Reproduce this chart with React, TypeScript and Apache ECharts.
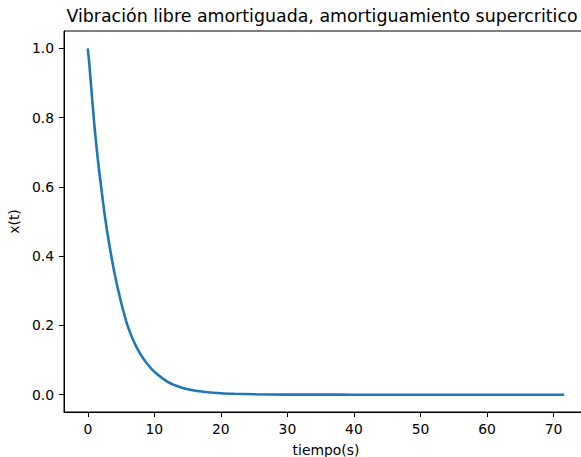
import React, { useEffect, useRef } from "react";
import * as echarts from "echarts";

const tiempo = [0, 0.25, 0.5, 1, 1.5, 2, 2.5, 3, 4, 5, 6, 7, 8, 9, 10, 12, 14, 16, 18, 20, 22, 25, 30, 35, 40, 50, 60, 71.6];
const xt = [1.0, 0.95, 0.89, 0.775, 0.68, 0.6, 0.525, 0.46, 0.352, 0.267, 0.198, 0.15, 0.114, 0.087, 0.066, 0.037, 0.021, 0.012, 0.007, 0.004, 0.0025, 0.0012, 0.0003, 0.0001, 0, 0, 0, 0];
const xTicks = [0, 10, 20, 30, 40, 50, 60, 70];
const yTicks = [0, 0.2, 0.4, 0.6, 0.8, 1.0];

const FONT = "DejaVu Sans";

export default function App() {
  const ref = useRef<HTMLDivElement>(null);
  useEffect(() => {
    if (!ref.current) return;
    const chart = echarts.init(ref.current, undefined, { renderer: "svg" });
    const data = tiempo.map((t, i) => [t, xt[i]]);
    chart.setOption({
      animation: false,
      title: {
        text: "Vibración libre amortiguada, amortiguamiento supercritico",
        left: 317,
        textAlign: "center",
        top: 2,
        textStyle: { fontFamily: FONT, fontSize: 17.4, fontWeight: "normal", color: "#000" },
      },
      grid: {
        left: 64,
        top: 31,
        right: -7,
        bottom: 45,
        show: true,
        borderColor: "#000",
        borderWidth: 1,
        outerBoundsMode: "none",
        containLabel: false,
      },
      xAxis: {
        type: "value",
        min: -3.58,
        max: 75.18,
        name: "tiempo(s)",
        nameLocation: "middle",
        nameGap: 31,
        nameTextStyle: { fontFamily: FONT, fontSize: 13.9, color: "#000" },
        splitLine: { show: false },
        axisLine: { show: true, onZero: false, lineStyle: { color: "#000", width: 1 } },
        axisTick: { show: true, customValues: xTicks, length: 5, lineStyle: { color: "#000" } },
        axisLabel: {
          customValues: xTicks,
          margin: 10,
          fontFamily: FONT,
          fontSize: 13.9,
          color: "#000",
        },
      },
      yAxis: {
        type: "value",
        min: -0.05,
        max: 1.05,
        name: "x(t)",
        nameLocation: "middle",
        nameGap: 39,
        nameRotate: 90,
        nameTextStyle: { fontFamily: FONT, fontSize: 13.9, color: "#000" },
        splitLine: { show: false },
        axisLine: { show: true, onZero: false, lineStyle: { color: "#000", width: 1 } },
        axisTick: { show: true, customValues: yTicks, length: 5, lineStyle: { color: "#000" } },
        axisLabel: {
          customValues: yTicks,
          margin: 10,
          fontFamily: FONT,
          fontSize: 13.9,
          color: "#000",
          formatter: (v: number) => v.toFixed(1),
        },
      },
      series: [
        {
          type: "line",
          data,
          showSymbol: false,
          smooth: 0.3,
          lineStyle: { color: "#1f77b4", width: 2.6 },
        },
      ],
    });
    return () => chart.dispose();
  }, []);
  return (
    <div style={{ position: "absolute", left: 0, top: 0, width: 581, height: 457, overflow: "hidden" }}>
      <div ref={ref} style={{ width: 581, height: 457 }} />
    </div>
  );
}
